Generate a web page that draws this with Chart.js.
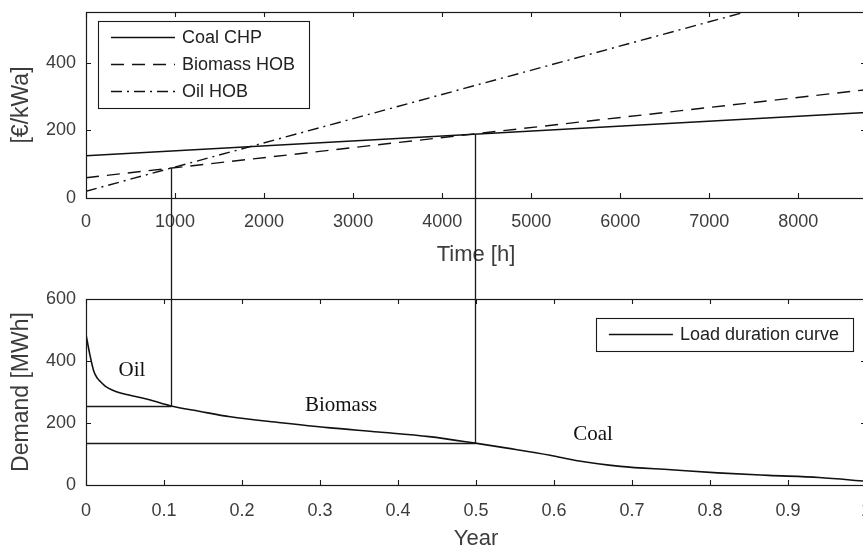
<!DOCTYPE html>
<html>
<head>
<meta charset="utf-8">
<script src="https://cdn.jsdelivr.net/npm/chart.js@4"></script>
<style>
  html, body { margin: 0; padding: 0; background: #fff; overflow: hidden; width: 863px; height: 552px; }
  canvas { position: absolute; left: 0; }
  #costChart { top: 0; }
  #demandChart { top: 280px; }
</style>
</head>
<body>
<canvas id="costChart" width="900" height="280"></canvas>
<canvas id="demandChart" width="900" height="272"></canvas>
<script>
// --- top plot: annualised cost per unit vs operating hours ---
const hours = [0, 8760];
const coalChp = [125, 253];
const biomassHob = [60, 320];
const oilHob = [20, 647];

// --- bottom plot: load duration curve ---
const years = [0, 0.005, 0.01, 0.015, 0.02, 0.025, 0.035, 0.055, 0.08, 0.109, 0.145, 0.185,
               0.25, 0.31, 0.375, 0.44, 0.499, 0.54, 0.595, 0.63, 0.685, 0.75, 0.81, 0.875, 0.94, 1.0];
const demand = [485, 420, 367, 343, 330, 318, 305, 290, 276, 255, 238, 220,
                201, 185, 171, 156, 135, 119, 96, 78, 60, 49, 39, 31, 24, 12];

// tick labels
const hourTicks = [0, 1000, 2000, 3000, 4000, 5000, 6000, 7000, 8000];
const costTicks = [0, 200, 400];
const yearTicks = [0, 0.1, 0.2, 0.3, 0.4, 0.5, 0.6, 0.7, 0.8, 0.9, 1];
const demandTicks = [0, 200, 400, 600];

// switch points between technologies (oil -> biomass, biomass -> coal)
const switchHours = [955, 4370];
const switchYears = [0.109, 0.499];
const switchCost = [88, 189];
const switchDemand = [255, 135];

// region names written on the load duration curve
const regionNames = ['Oil', 'Biomass', 'Coal'];
const regionYears = [0.059, 0.327, 0.65];
const regionDemand = [368, 255, 164];

const SANS = '"Liberation Sans", Arial, sans-serif';
const SERIF = '"Liberation Serif", "Times New Roman", serif';
const TEXT = '#3c3c3c';
const INK = '#1a1a1a';
const TICK = 5;

const pts = (xs, ys) => xs.map((v, i) => ({ x: v, y: ys[i] }));
const snap = v => Math.round(v) + 0.5;

// MATLAB-like box with inward ticks on all four sides
const boxTicks = {
    id: 'boxTicks',
    afterDatasetsDraw(chart) {
        const { ctx, chartArea: a, scales: { x, y } } = chart;
        ctx.save();
        ctx.strokeStyle = INK;
        ctx.lineWidth = 1.1;
        ctx.beginPath();
        x.ticks.forEach(t => {
            const px = snap(x.getPixelForValue(t.value));
            ctx.moveTo(px, a.bottom); ctx.lineTo(px, a.bottom - TICK);
            ctx.moveTo(px, a.top); ctx.lineTo(px, a.top + TICK);
        });
        y.ticks.forEach(t => {
            const py = snap(y.getPixelForValue(t.value));
            ctx.moveTo(a.left, py); ctx.lineTo(a.left + TICK, py);
            ctx.moveTo(a.right, py); ctx.lineTo(a.right - TICK, py);
        });
        ctx.stroke();
        ctx.lineWidth = 1.2;
        ctx.strokeRect(snap(a.left), snap(a.top), Math.round(a.right - a.left), Math.round(a.bottom - a.top));
        ctx.restore();
    }
};

// boxed legend with line samples, placed inside the axes
function drawLegend(chart, side, dx, dy) {
    const { ctx, chartArea: a } = chart;
    const sets = chart.data.datasets.filter(d => d.label);
    const rowH = 27, padL = 13, sample = 64, gap = 7, padR = 14, padV = 16.5;
    ctx.save();
    ctx.font = '18px ' + SANS;
    const textW = Math.max(...sets.map(d => ctx.measureText(d.label).width));
    const w = padL + sample + gap + textW + padR;
    const h = padV * 2 + rowH * (sets.length - 1);
    const left = side === 'left' ? a.left + dx : a.right - dx - w;
    const top = a.top + dy;
    ctx.fillStyle = '#fff';
    ctx.fillRect(left, top, w, h);
    ctx.strokeStyle = INK;
    ctx.lineWidth = 1.1;
    ctx.strokeRect(snap(left), snap(top), Math.round(w), Math.round(h));
    sets.forEach((d, i) => {
        const cy = top + padV + i * rowH;
        ctx.setLineDash(d.borderDash || []);
        ctx.lineWidth = d.borderWidth;
        ctx.strokeStyle = d.borderColor;
        ctx.beginPath();
        ctx.moveTo(left + padL, cy);
        ctx.lineTo(left + padL + sample, cy);
        ctx.stroke();
        ctx.setLineDash([]);
        ctx.fillStyle = '#222';
        ctx.textAlign = 'left';
        ctx.textBaseline = 'middle';
        ctx.fillText(d.label, left + padL + sample + gap, cy + 1);
    });
    ctx.restore();
}

function axisX(min, max, ticks, title, tickPad, titlePad, height) {
    return {
        type: 'linear', min, max,
        grid: { display: false, drawTicks: false },
        border: { display: false },
        afterBuildTicks: s => { s.ticks = ticks.map(v => ({ value: v })); },
        afterFit: s => { s.height = height; s.paddingLeft = 0; s.paddingRight = 0; },
        ticks: { color: TEXT, font: { family: SANS, size: 18 }, padding: tickPad, maxRotation: 0, autoSkip: false,
                 callback: v => String(v) },
        title: { display: true, text: title, color: TEXT, font: { family: SANS, size: 22 },
                 padding: { top: 0, bottom: titlePad } }
    };
}

function axisY(min, max, ticks, title) {
    return {
        type: 'linear', min, max,
        grid: { display: false, drawTicks: false },
        border: { display: false },
        afterBuildTicks: s => { s.ticks = ticks.map(v => ({ value: v })); },
        afterFit: s => { s.width = 86; s.paddingTop = 0; s.paddingBottom = 0; },
        ticks: { color: TEXT, font: { family: SANS, size: 18 }, padding: 10, callback: v => String(v) },
        title: { display: true, text: title, color: TEXT, font: { family: SANS, size: 23 },
                 padding: { top: 8, bottom: 0 } }
    };
}

const lineStyle = { borderColor: '#111', borderWidth: 1.4, pointRadius: 0, fill: false };

new Chart(document.getElementById('costChart'), {
    type: 'line',
    data: {
        datasets: [
            { label: 'Coal CHP', data: pts(hours, coalChp), ...lineStyle },
            { label: 'Biomass HOB', data: pts(hours, biomassHob), ...lineStyle, borderDash: [13, 8] },
            { label: 'Oil HOB', data: pts(hours, oilHob), ...lineStyle, borderDash: [11, 5, 2, 5] }
        ]
    },
    options: {
        responsive: false,
        animation: false,
        layout: { padding: { left: 0, top: 12, right: 34, bottom: 0 } },
        plugins: { legend: { display: false }, tooltip: { enabled: false } },
        scales: {
            x: axisX(0, 8760, hourTicks, 'Time [h]', 13, 12, 82),
            y: axisY(0, 550, costTicks, '[€/kWa]')
        }
    },
    plugins: [boxTicks, {
        id: 'costExtras',
        afterDraw(chart) {
            drawLegend(chart, 'left', 12, 9);
            const { ctx, scales: { x, y } } = chart;
            ctx.save();
            ctx.strokeStyle = INK;
            ctx.lineWidth = 1.3;
            switchHours.forEach((h, i) => {
                const px = snap(x.getPixelForValue(h));
                ctx.beginPath();
                ctx.moveTo(px, y.getPixelForValue(switchCost[i]));
                ctx.lineTo(px, chart.height);
                ctx.stroke();
            });
            ctx.restore();
        }
    }]
});

new Chart(document.getElementById('demandChart'), {
    type: 'line',
    data: {
        datasets: [
            { label: 'Load duration curve', data: pts(years, demand), ...lineStyle, borderWidth: 1.6,
              cubicInterpolationMode: 'monotone' }
        ]
    },
    options: {
        responsive: false,
        animation: false,
        layout: { padding: { left: 0, top: 19, right: 34, bottom: 0 } },
        plugins: { legend: { display: false }, tooltip: { enabled: false } },
        scales: {
            x: axisX(0, 1, yearTicks, 'Year', 15, 0, 67),
            y: axisY(0, 600, demandTicks, 'Demand [MWh]')
        }
    },
    plugins: [boxTicks, {
        id: 'demandExtras',
        afterDatasetsDraw(chart) {
            const { ctx, scales: { x, y } } = chart;
            ctx.save();
            ctx.strokeStyle = INK;
            ctx.lineWidth = 1.3;
            switchYears.forEach((yr, i) => {
                const px = snap(x.getPixelForValue(yr));
                const py = snap(y.getPixelForValue(switchDemand[i]));
                ctx.beginPath();
                ctx.moveTo(x.getPixelForValue(0), py);
                ctx.lineTo(px, py);
                ctx.stroke();
            });
            ctx.fillStyle = '#111';
            ctx.font = '21px ' + SERIF;
            ctx.textAlign = 'center';
            ctx.textBaseline = 'middle';
            regionNames.forEach((name, i) => {
                ctx.fillText(name, x.getPixelForValue(regionYears[i]), y.getPixelForValue(regionDemand[i]));
            });
            ctx.restore();
        },
        afterDraw(chart) {
            drawLegend(chart, 'right', 13, 19);
            const { ctx, scales: { x, y } } = chart;
            ctx.save();
            ctx.strokeStyle = INK;
            ctx.lineWidth = 1.3;
            switchYears.forEach((yr, i) => {
                const px = snap(x.getPixelForValue(yr));
                ctx.beginPath();
                ctx.moveTo(px, 0);
                ctx.lineTo(px, y.getPixelForValue(switchDemand[i]));
                ctx.stroke();
            });
            ctx.restore();
        }
    }]
});
</script>
</body>
</html>
